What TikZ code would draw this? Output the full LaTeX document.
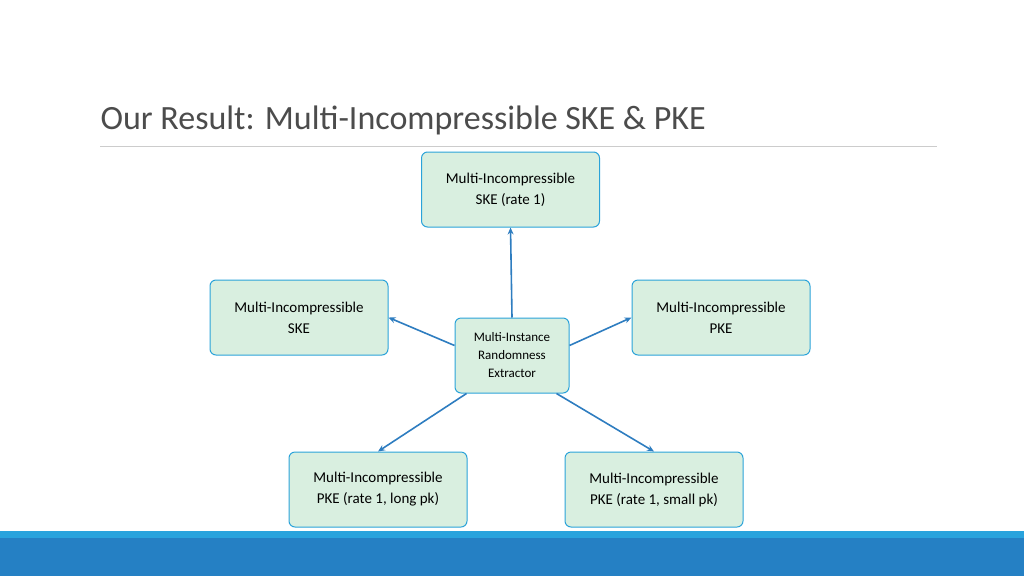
\documentclass[tikz,border=0pt]{standalone}
\usepackage{fontspec}
\setmainfont{Carlito}
\usetikzlibrary{positioning,arrows.meta}
\definecolor{boxfill}{HTML}{D9EFE0}
\definecolor{boxline}{HTML}{2BA3D9}
\definecolor{arrowblue}{HTML}{2E7DC0}
\definecolor{barlight}{HTML}{29A3DD}
\definecolor{bardark}{HTML}{2580C4}
\tikzset{
  resbox/.style={draw=boxline, fill=boxfill, rounded corners=6pt, line width=1pt,
    minimum width=178pt, minimum height=75pt, align=center,
    font=\fontsize{15}{21}\selectfont},
  corebox/.style={resbox, minimum width=114pt, minimum height=75pt,
    font=\fontsize{13}{18}\selectfont},
  link/.style={draw=arrowblue, line width=1.6pt, -{Stealth[length=7pt,width=6pt]}}
}
\begin{document}
\begin{tikzpicture}[x=1pt,y=-1pt]
  \useasboundingbox (0,0) rectangle (1024,576);
  % title and rule
  \node[anchor=west, text=black!70, font=\fontsize{34}{40}\selectfont] (title) at (97,120) {Our Result: Multi-Incompressible SKE \& PKE};
  \draw[black!20, line width=1pt] (100,146) -- (937,146);
  % bottom bar
  \fill[barlight] (0,531) rectangle (1024,538);
  \fill[bardark] (0,538) rectangle (1024,576);
  % boxes
  \node[corebox] (mie) at (512,355.5) {Multi-Instance\\Randomness\\Extractor};
  \node[resbox] (ske1) at (510.5,189.5) {Multi-Incompressible\\SKE (rate 1)};
  \node[resbox] (ske) at (299,317.5) {Multi-Incompressible\\SKE};
  \node[resbox] (pke) at (721,317.5) {Multi-Incompressible\\PKE};
  \node[resbox] (pkel) at (378,489.5) {Multi-Incompressible\\PKE (rate 1, long pk)};
  \node[resbox] (pkes) at (654,489.5) {Multi-Incompressible\\PKE (rate 1, small pk)};
  % arrows
  \draw[link] (mie.north) -- (ske1.south);
  \draw[link] (mie.west) ++(0,-10) -- (ske.east);
  \draw[link] (mie.east) ++(0,-10) -- (pke.west);
  \draw[link] (mie.south west) ++(12,0) -- (pkel.north);
  \draw[link] (mie.south east) ++(-13,0) -- (pkes.north);
\end{tikzpicture}
\end{document}
